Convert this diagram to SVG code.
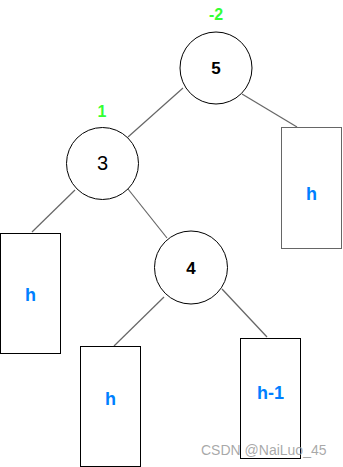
<svg xmlns="http://www.w3.org/2000/svg" width="343" height="467" viewBox="0 0 343 467">
<style>
.node{fill:#fff;stroke:#000;stroke-width:1}
.box{fill:#fff;stroke:#000;stroke-width:1}
.edge{stroke:#666;stroke-width:1.2;fill:none}
.num{font-family:"Liberation Sans",Arial,sans-serif;font-size:17px;font-weight:bold;fill:#000;text-anchor:middle}
.num3{font-family:"Liberation Sans",Arial,sans-serif;font-size:20px;font-weight:normal;fill:#000;text-anchor:middle}
.h{font-family:"Liberation Sans",Arial,sans-serif;font-size:18px;font-weight:bold;fill:#007FFF;text-anchor:middle}
.bf{font-family:"Liberation Sans",Arial,sans-serif;font-size:16px;font-weight:bold;fill:#33FF33;text-anchor:middle}
</style>
<rect width="343" height="467" fill="#fff"/>
<g id="connectors">
<line class="edge" x1="183" y1="88" x2="128" y2="137"/>
<line class="edge" x1="242" y1="94" x2="297" y2="127"/>
<line class="edge" x1="75" y1="190" x2="32" y2="232"/>
<line class="edge" x1="128" y1="189" x2="167" y2="238"/>
<line class="edge" x1="164" y1="297" x2="114" y2="346"/>
<line class="edge" x1="222" y1="289" x2="267" y2="337"/>
</g>
<g id="node5">
<circle class="node" cx="216" cy="68" r="36"/>
<text class="num" x="216" y="74">5</text>
<text class="bf" x="216" y="20">-2</text>
</g>
<g id="node3">
<circle class="node" cx="102.5" cy="163.5" r="36"/>
<text class="num3" x="102.5" y="170">3</text>
<text class="bf" x="102" y="117">1</text>
</g>
<g id="node4">
<circle class="node" cx="191" cy="267.5" r="36.5"/>
<text class="num" x="191" y="274">4</text>
</g>
<g id="boxRight">
<rect class="box" x="281.5" y="127.5" width="60" height="121" style="stroke:#666"/>
<text class="h" x="311.5" y="200">h</text>
</g>
<g id="boxLeft">
<rect class="box" x="0.5" y="233.5" width="60" height="120"/>
<text class="h" x="30.5" y="301">h</text>
</g>
<g id="boxBottomLeft">
<rect class="box" x="80.5" y="346.5" width="60" height="120"/>
<text class="h" x="110.5" y="405">h</text>
</g>
<g id="boxBottomRight">
<rect class="box" x="240.5" y="338.5" width="60" height="120"/>
<text class="h" x="270.5" y="399">h-1</text>
</g>
<text x="201" y="455" font-family="'Liberation Sans',Arial,sans-serif" font-size="14" fill="#999" fill-opacity="0.85">CSDN @NaiLuo_45</text>
</svg>
